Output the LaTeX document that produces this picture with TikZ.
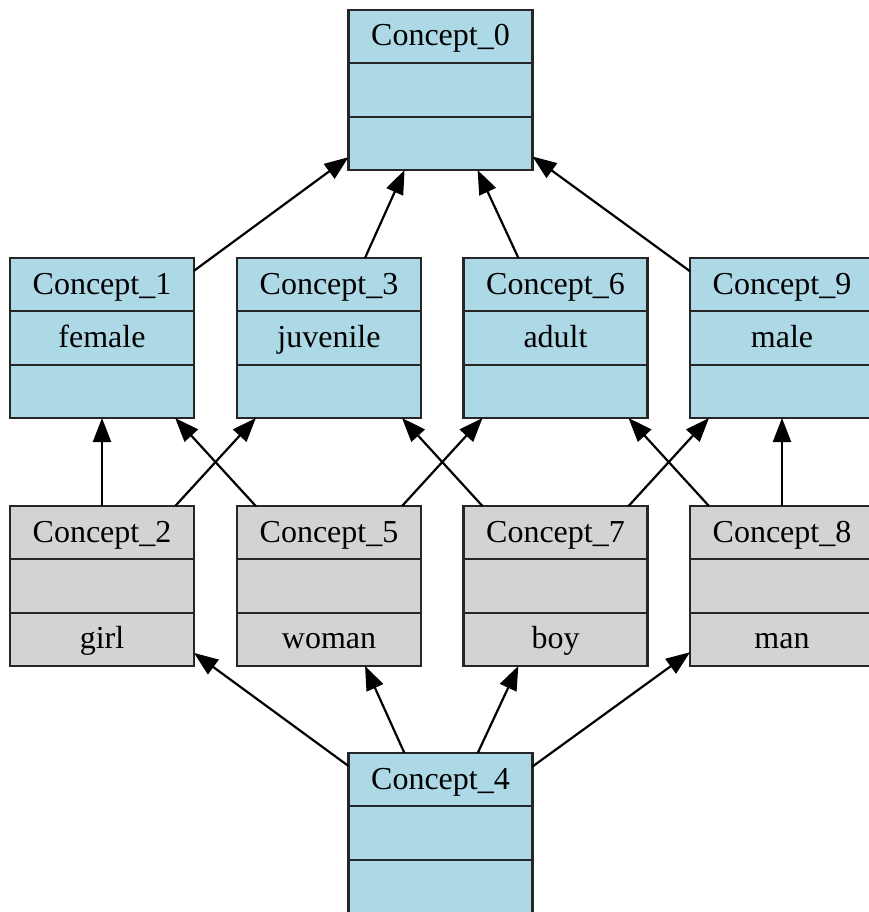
\documentclass[tikz,border=0pt]{standalone}
\usepackage{fontspec}
\setmainfont{Liberation Serif}
\usetikzlibrary{arrows.meta}
\definecolor{cblue}{HTML}{ADD8E6}
\definecolor{cgray}{HTML}{D3D3D3}
\tikzset{
  concept/.style={draw=black!85, line width=2.3pt, minimum width=184pt, minimum height=160pt, inner sep=0pt, outer sep=0pt},
  bluebox/.style={concept, fill=cblue},
  graybox/.style={concept, fill=cgray},
  divider/.style={draw=black!85, line width=2.3pt},
  lbl/.style={font=\fontsize{32}{36}\selectfont, inner sep=0pt, anchor=base},
  edge/.style={draw=black, line width=2.2pt, -{Triangle[length=24pt,width=18pt]}},
}
\newcommand\mybox[7]{%
  \node[#2] (#1) at (#3,#4+80) {};
  \draw[divider] (#3-92,#4+53.3) -- (#3+92,#4+53.3);
  \draw[divider] (#3-92,#4+106.7) -- (#3+92,#4+106.7);
  \node[lbl] (#1-a) at (#3,#4+36) {#5};
  \node[lbl] (#1-b) at (#3,#4+89.3) {#6};
  \node[lbl] (#1-c) at (#3,#4+142.6) {#7};
}
\begin{document}
\begin{tikzpicture}[x=1pt,y=-1pt]
\useasboundingbox (0,0) rectangle (869,912);
\fill[white] (0,0) rectangle (869,912);
\clip (0,0) rectangle (869,912);
\mybox{c0}{bluebox}{440.5}{10}{Concept\_0}{}{}
\mybox{c1}{bluebox}{102}{258}{Concept\_1}{female}{}
\mybox{c3}{bluebox}{329}{258}{Concept\_3}{juvenile}{}
\mybox{c6}{bluebox}{555.5}{258}{Concept\_6}{adult}{}
\mybox{c9}{bluebox}{782}{258}{Concept\_9}{male}{}
\mybox{c2}{graybox}{102}{506}{Concept\_2}{}{girl}
\mybox{c5}{graybox}{329}{506}{Concept\_5}{}{woman}
\mybox{c7}{graybox}{555.5}{506}{Concept\_7}{}{boy}
\mybox{c8}{graybox}{782}{506}{Concept\_8}{}{man}
\mybox{c4}{bluebox}{440.5}{753}{Concept\_4}{}{}
\draw[edge] (c1) -- (c0);
\draw[edge] (c3) -- (c0);
\draw[edge] (c6) -- (c0);
\draw[edge] (c9) -- (c0);
\draw[edge] (c2) -- (c1);
\draw[edge] (c5) -- (c1);
\draw[edge] (c2) -- (c3);
\draw[edge] (c7) -- (c3);
\draw[edge] (c5) -- (c6);
\draw[edge] (c8) -- (c6);
\draw[edge] (c7) -- (c9);
\draw[edge] (c8) -- (c9);
\draw[edge] (c4) -- (c2);
\draw[edge] (c4) -- (c5);
\draw[edge] (c4) -- (c7);
\draw[edge] (c4) -- (c8);
\end{tikzpicture}
\end{document}
